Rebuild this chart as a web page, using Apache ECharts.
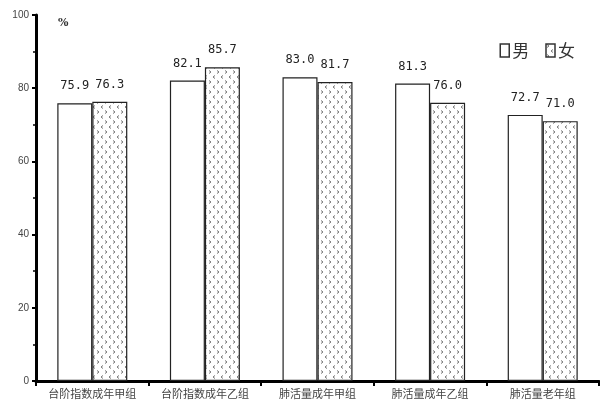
<!DOCTYPE html>
<html><head><meta charset="utf-8">
<script src="https://cdn.jsdelivr.net/npm/echarts@6/dist/echarts.min.js"></script>
<style>html,body{margin:0;padding:0;background:#fff}#c{width:600px;height:412px}</style>
</head><body><div id="c"></div>
<script>
var categories = ['台阶指数成年甲组','台阶指数成年乙组','肺活量成年甲组','肺活量成年乙组','肺活量老年组'];
var maleValues = [75.9, 82.1, 83.0, 81.3, 72.7];
var femaleValues = [76.3, 85.7, 81.7, 76.0, 71.0];
var yTicks = [0, 20, 40, 60, 80, 100];

function makePattern(){
  var cv = document.createElement('canvas');
  cv.width = 8; cv.height = 10;
  var g = cv.getContext('2d');
  g.fillStyle = '#fff'; g.fillRect(0,0,8,10);
  g.strokeStyle = '#777'; g.lineWidth = 1;
  g.beginPath(); g.moveTo(1,0.5); g.lineTo(3,2); g.lineTo(1,3.5); g.stroke();
  g.beginPath(); g.moveTo(7,5.5); g.lineTo(5,7); g.lineTo(7,8.5); g.stroke();
  return cv;
}
var pat = {image: makePattern(), repeat: 'repeat'};

var labelStyle = {show: true, position: 'top', distance: 11, fontSize: 12, color: '#222', fontFamily: 'DejaVu Sans Mono',
  formatter: function(p){return p.value.toFixed(1);}};

var chart = echarts.init(document.getElementById('c'));
chart.setOption({
  animation: false,
  backgroundColor: '#fff',
  grid: {left: 36, right: 1, top: 15, bottom: 31},
  legend: {
    right: 20, top: 37, itemWidth: 9, itemHeight: 13, itemGap: 16,
    textStyle: {fontSize: 17, color: '#333', fontFamily: 'Noto Sans CJK SC', padding: [0,0,0,-2]},
    data: [
      {name: '男', icon: 'rect', itemStyle: {color: '#fff', borderColor: '#333', borderWidth: 1.5}},
      {name: '女', icon: 'rect', itemStyle: {color: pat, borderColor: '#333', borderWidth: 1.5}}
    ]
  },
  graphic: [{type: 'text', left: 58, top: 18, style: {text: '%', fontSize: 11, fontWeight: 'bold', fill: '#333', fontFamily: 'DejaVu Serif'}}],
  xAxis: {
    type: 'category', data: categories,
    axisLine: {lineStyle: {color: '#000', width: 3}},
    axisTick: {show: true, length: 5, lineStyle: {color: '#000', width: 2}},
    axisLabel: {interval: 0, fontSize: 11, color: '#444', margin: 7, fontFamily: 'Noto Sans CJK SC'}
  },
  yAxis: {
    type: 'value', min: 0, max: 100, interval: 20,
    axisLine: {show: true, lineStyle: {color: '#000', width: 3}},
    axisTick: {show: true, length: 4, lineStyle: {color: '#000', width: 2}},
    minorTick: {show: true, splitNumber: 2, length: 3, lineStyle: {color: '#000', width: 1.5}},
    splitLine: {show: false},
    axisLabel: {fontSize: 10, color: '#444', margin: 7, fontFamily: 'Liberation Sans'}
  },
  series: [
    {name: '男', type: 'bar', data: maleValues, barWidth: 35, barGap: '0%',
     itemStyle: {color: '#fff', borderColor: '#222', borderWidth: 1.2},
     label: labelStyle},
    {name: '女', type: 'bar', data: femaleValues, barWidth: 35,
     itemStyle: {color: pat, borderColor: '#222', borderWidth: 1.2},
     label: labelStyle}
  ]
});
</script></body></html>
